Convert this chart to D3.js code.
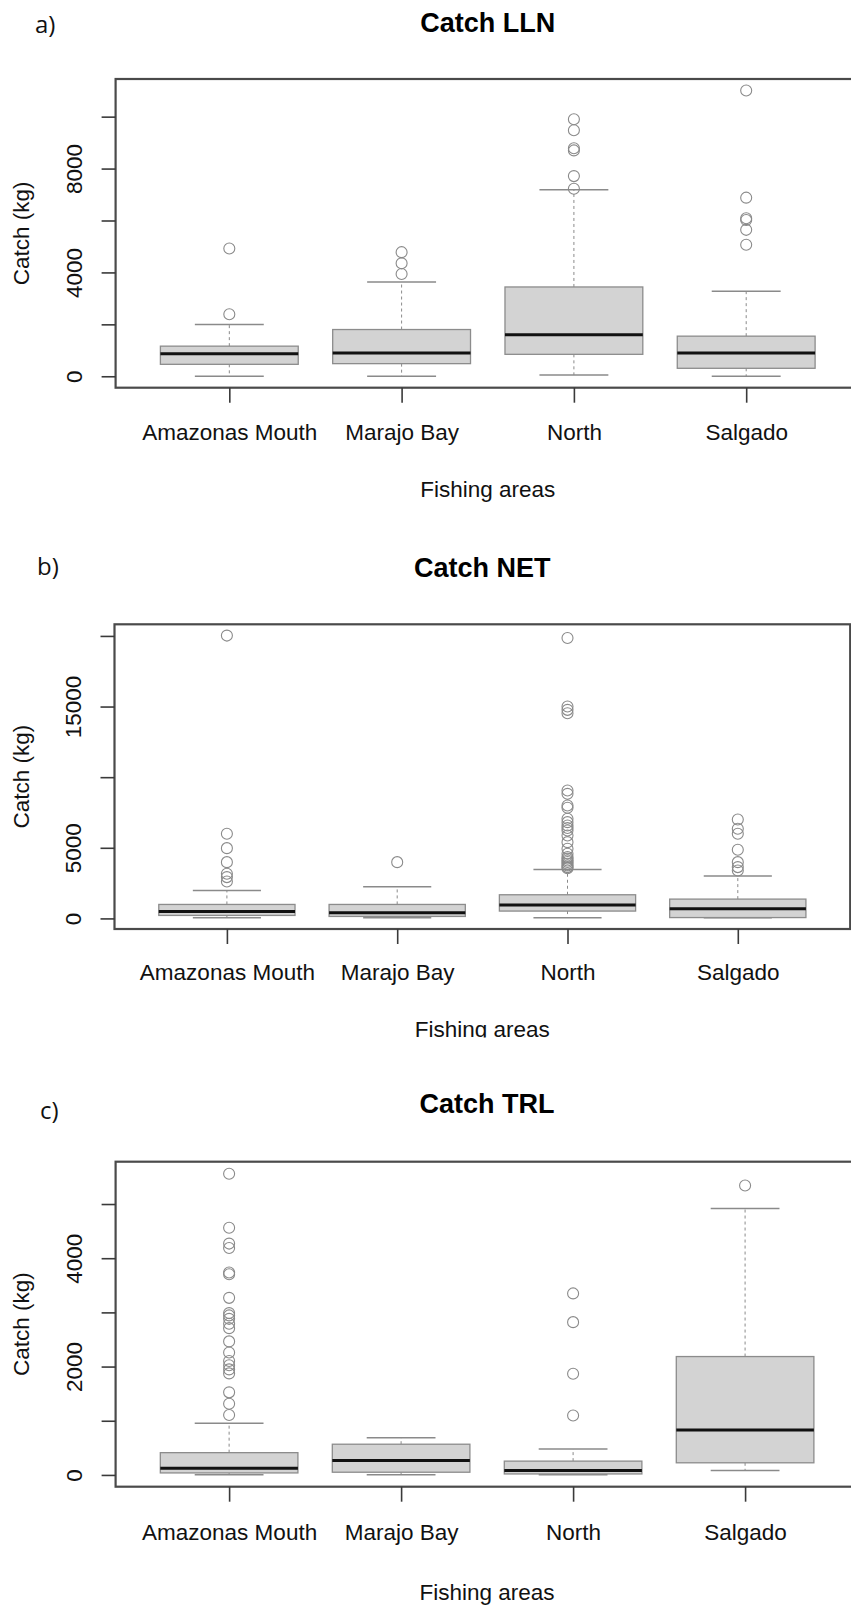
<!DOCTYPE html>
<html>
<head>
<meta charset="utf-8">
<script src="https://cdn.jsdelivr.net/npm/d3@7"></script>
<style>
  body { margin: 0; background: #fff; }
  svg { display: block; background: #fff; }
</style>
</head>
<body>
<svg id="fig" width="851" height="1607"></svg>
<script>
// Fishing areas on the x axis
const areas = ["Amazonas Mouth", "Marajo Bay", "North", "Salgado"];

// Catch LLN (kg): whisker ends, quartiles, medians, outliers
const llnLow  = [0, 0, 50, 0];
const llnQ1   = [460, 486, 845, 307];
const llnMed  = [870, 895, 1600, 895];
const llnQ3   = [1160, 1800, 3440, 1545];
const llnHigh = [1995, 3630, 7185, 3275];
const llnOut  = [
  [2390, 4920],
  [3940, 4350, 4780],
  [7225, 7710, 8700, 8785, 9475, 9900],
  [5065, 5640, 6020, 6085, 6880, 11010]
];
const llnTicks  = [0, 2000, 4000, 6000, 8000, 10000];
const llnLabels = [0, 4000, 8000];

// Catch NET (kg)
const netLow  = [50, 50, 50, 50];
const netQ1   = [212, 140, 520, 60];
const netMed  = [495, 400, 945, 684];
const netQ3   = [990, 990, 1675, 1368];
const netHigh = [1980, 2240, 3465, 2995];
const netOut  = [
  [2618, 2925, 3160, 3985, 4976, 5991, 20024],
  [3985],
  [3550, 3632, 3750, 3868, 3990, 4104, 4220, 4340, 4576, 4929, 5400, 5873, 6227,
   6400, 6580, 6817, 7053, 7831, 7996, 8821, 9057, 14529, 14765, 15000, 19858],
  [3396, 3632, 3985, 4859, 5991, 6345, 7005]
];
const netTicks  = [0, 5000, 10000, 15000, 20000];
const netLabels = [0, 5000, 15000];

// Catch TRL (kg)
const trlLow  = [5, 5, 5, 81];
const trlQ1   = [37, 50, 18, 224];
const trlMed  = [124, 268, 81, 828];
const trlQ3   = [411, 567, 255, 2185];
const trlHigh = [952, 685, 479, 4919];
const trlOut  = [
  [1107, 1313, 1524, 1874, 1948, 2024, 2103, 2259, 2465, 2709, 2789, 2881, 2944,
   2987, 3268, 3704, 3735, 4189, 4270, 4563, 5559],
  [],
  [1096, 1868, 2820, 3350],
  [5341]
];
const trlTicks  = [0, 1000, 2000, 3000, 4000, 5000];
const trlLabels = [0, 2000, 4000];

const panels = [
  { tag: "a)", title: "Catch LLN", low: llnLow, q1: llnQ1, med: llnMed, q3: llnQ3, high: llnHigh,
    out: llnOut, ticks: llnTicks, labels: llnLabels,
    box: { left: 115.6, right: 859.9, top: 79, bottom: 387.7 },
    tagPos: [35, 33], titleY: 31.7, labelY: 440, xTitleY: 496.7, clipY: null },
  { tag: "b)", title: "Catch NET", low: netLow, q1: netQ1, med: netMed, q3: netQ3, high: netHigh,
    out: netOut, ticks: netTicks, labels: netLabels,
    box: { left: 114.5, right: 850.2, top: 624.3, bottom: 929 },
    tagPos: [37, 574.5], titleY: 576.7, labelY: 980, xTitleY: 1037, clipY: 1037.5 },
  { tag: "c)", title: "Catch TRL", low: trlLow, q1: trlQ1, med: trlMed, q3: trlQ3, high: trlHigh,
    out: trlOut, ticks: trlTicks, labels: trlLabels,
    box: { left: 115.6, right: 858.6, top: 1161.7, bottom: 1486.7 },
    tagPos: [40, 1119], titleY: 1112.6, labelY: 1539.8, xTitleY: 1600, clipY: null }
];

const svg = d3.select("#fig");
const FONT = "'Liberation Sans', Arial, sans-serif";
const defs = svg.append("defs");

panels.forEach((p, pi) => {
  const root = svg.append("g");
  if (p.clipY !== null) {
    defs.append("clipPath").attr("id", "clip" + pi)
      .append("rect").attr("x", 0).attr("y", 0).attr("width", 851).attr("height", p.clipY);
    root.attr("clip-path", `url(#clip${pi})`);
  }
  const b = p.box;

  // R-style x range: groups at 1..n, limits widened by 4%
  const x = d3.scaleLinear().domain([0.34, 4.66]).range([b.left, b.right]);
  const all = [...p.low, ...p.high, ...p.out.flat()];
  const [lo, hi] = d3.extent(all);
  const pad = (hi - lo) * 0.04;
  const y = d3.scaleLinear().domain([lo - pad, hi + pad]).range([b.bottom, b.top]);

  const halfBox = x(1.4) - x(1);
  const halfStaple = x(1.2) - x(1);

  const stats = areas.map((name, i) => ({
    name, i: i + 1, low: p.low[i], q1: p.q1[i], med: p.med[i], q3: p.q3[i], high: p.high[i], out: p.out[i]
  }));

  const plot = root.append("g");
  const grp = plot.selectAll("g.grp").data(stats).join("g").attr("class", "grp");

  // whiskers (dashed)
  grp.append("line")
    .attr("x1", d => x(d.i)).attr("x2", d => x(d.i))
    .attr("y1", d => y(d.q3)).attr("y2", d => y(d.high))
    .attr("stroke", "#8a8a8a").attr("stroke-width", 1).attr("stroke-dasharray", "3,3");
  grp.append("line")
    .attr("x1", d => x(d.i)).attr("x2", d => x(d.i))
    .attr("y1", d => y(d.q1)).attr("y2", d => y(d.low))
    .attr("stroke", "#8a8a8a").attr("stroke-width", 1).attr("stroke-dasharray", "3,3");
  // staples
  ["high", "low"].forEach(k => {
    grp.append("line")
      .attr("x1", d => x(d.i) - halfStaple).attr("x2", d => x(d.i) + halfStaple)
      .attr("y1", d => y(d[k])).attr("y2", d => y(d[k]))
      .attr("stroke", "#8a8a8a").attr("stroke-width", 1.5);
  });
  // boxes
  grp.append("rect")
    .attr("x", d => x(d.i) - halfBox).attr("width", 2 * halfBox)
    .attr("y", d => y(d.q3)).attr("height", d => y(d.q1) - y(d.q3))
    .attr("fill", "#d3d3d3").attr("stroke", "#8c8c8c").attr("stroke-width", 1.3);
  // medians
  grp.append("line")
    .attr("x1", d => x(d.i) - halfBox).attr("x2", d => x(d.i) + halfBox)
    .attr("y1", d => y(d.med)).attr("y2", d => y(d.med))
    .attr("stroke", "#111").attr("stroke-width", 3);
  // outliers
  grp.selectAll("circle").data(d => d.out.map(v => ({ i: d.i, v }))).join("circle")
    .attr("cx", d => x(d.i)).attr("cy", d => y(d.v)).attr("r", 5.5)
    .attr("fill", "none").attr("stroke", "#8a8a8a").attr("stroke-width", 1.1);

  // frame
  root.append("rect")
    .attr("x", b.left).attr("y", b.top)
    .attr("width", b.right - b.left).attr("height", b.bottom - b.top)
    .attr("fill", "none").attr("stroke", "#4a4a4a").attr("stroke-width", 2.2);

  // y axis with rotated labels
  const yAxis = root.append("g")
    .attr("transform", `translate(${b.left},0)`)
    .call(d3.axisLeft(y).tickValues(p.ticks).tickSize(14)
      .tickFormat(d => p.labels.includes(d) ? String(d) : ""));
  yAxis.select(".domain").remove();
  yAxis.selectAll(".tick line").attr("stroke", "#3a3a3a").attr("stroke-width", 1.6);
  yAxis.selectAll(".tick text")
    .attr("x", 0).attr("dy", 0)
    .attr("transform", "translate(-33.6,0) rotate(-90)")
    .attr("text-anchor", "middle")
    .attr("font-family", FONT).attr("font-size", 22.5).attr("fill", "#111");

  // x axis
  const xAxis = root.append("g")
    .attr("transform", `translate(0,${b.bottom})`)
    .call(d3.axisBottom(x).tickValues([1, 2, 3, 4]).tickSize(15)
      .tickFormat(d => areas[d - 1]));
  xAxis.select(".domain").remove();
  xAxis.selectAll(".tick line").attr("stroke", "#3a3a3a").attr("stroke-width", 1.6);
  xAxis.selectAll(".tick text")
    .attr("y", p.labelY - b.bottom).attr("dy", 0)
    .attr("font-family", FONT).attr("font-size", 22.5).attr("fill", "#111");

  const cx = (b.left + b.right) / 2;
  // title
  root.append("text").attr("x", cx).attr("y", p.titleY)
    .attr("text-anchor", "middle").attr("font-family", FONT)
    .attr("font-weight", "bold").attr("font-size", 27).attr("fill", "#000")
    .text(p.title);
  // axis titles
  root.append("text").attr("x", cx).attr("y", p.xTitleY)
    .attr("text-anchor", "middle").attr("font-family", FONT)
    .attr("font-size", 22.5).attr("fill", "#111").text("Fishing areas");
  root.append("text")
    .attr("transform", `translate(28.5,${(b.top + b.bottom) / 2}) rotate(-90)`)
    .attr("text-anchor", "middle").attr("font-family", FONT)
    .attr("font-size", 22.5).attr("fill", "#111").text("Catch (kg)");
  // panel tag
  svg.append("text").attr("x", p.tagPos[0]).attr("y", p.tagPos[1])
    .attr("font-family", "'Open Sans', sans-serif").attr("font-size", 24).attr("fill", "#111")
    .text(p.tag);
});
</script>
</body>
</html>
